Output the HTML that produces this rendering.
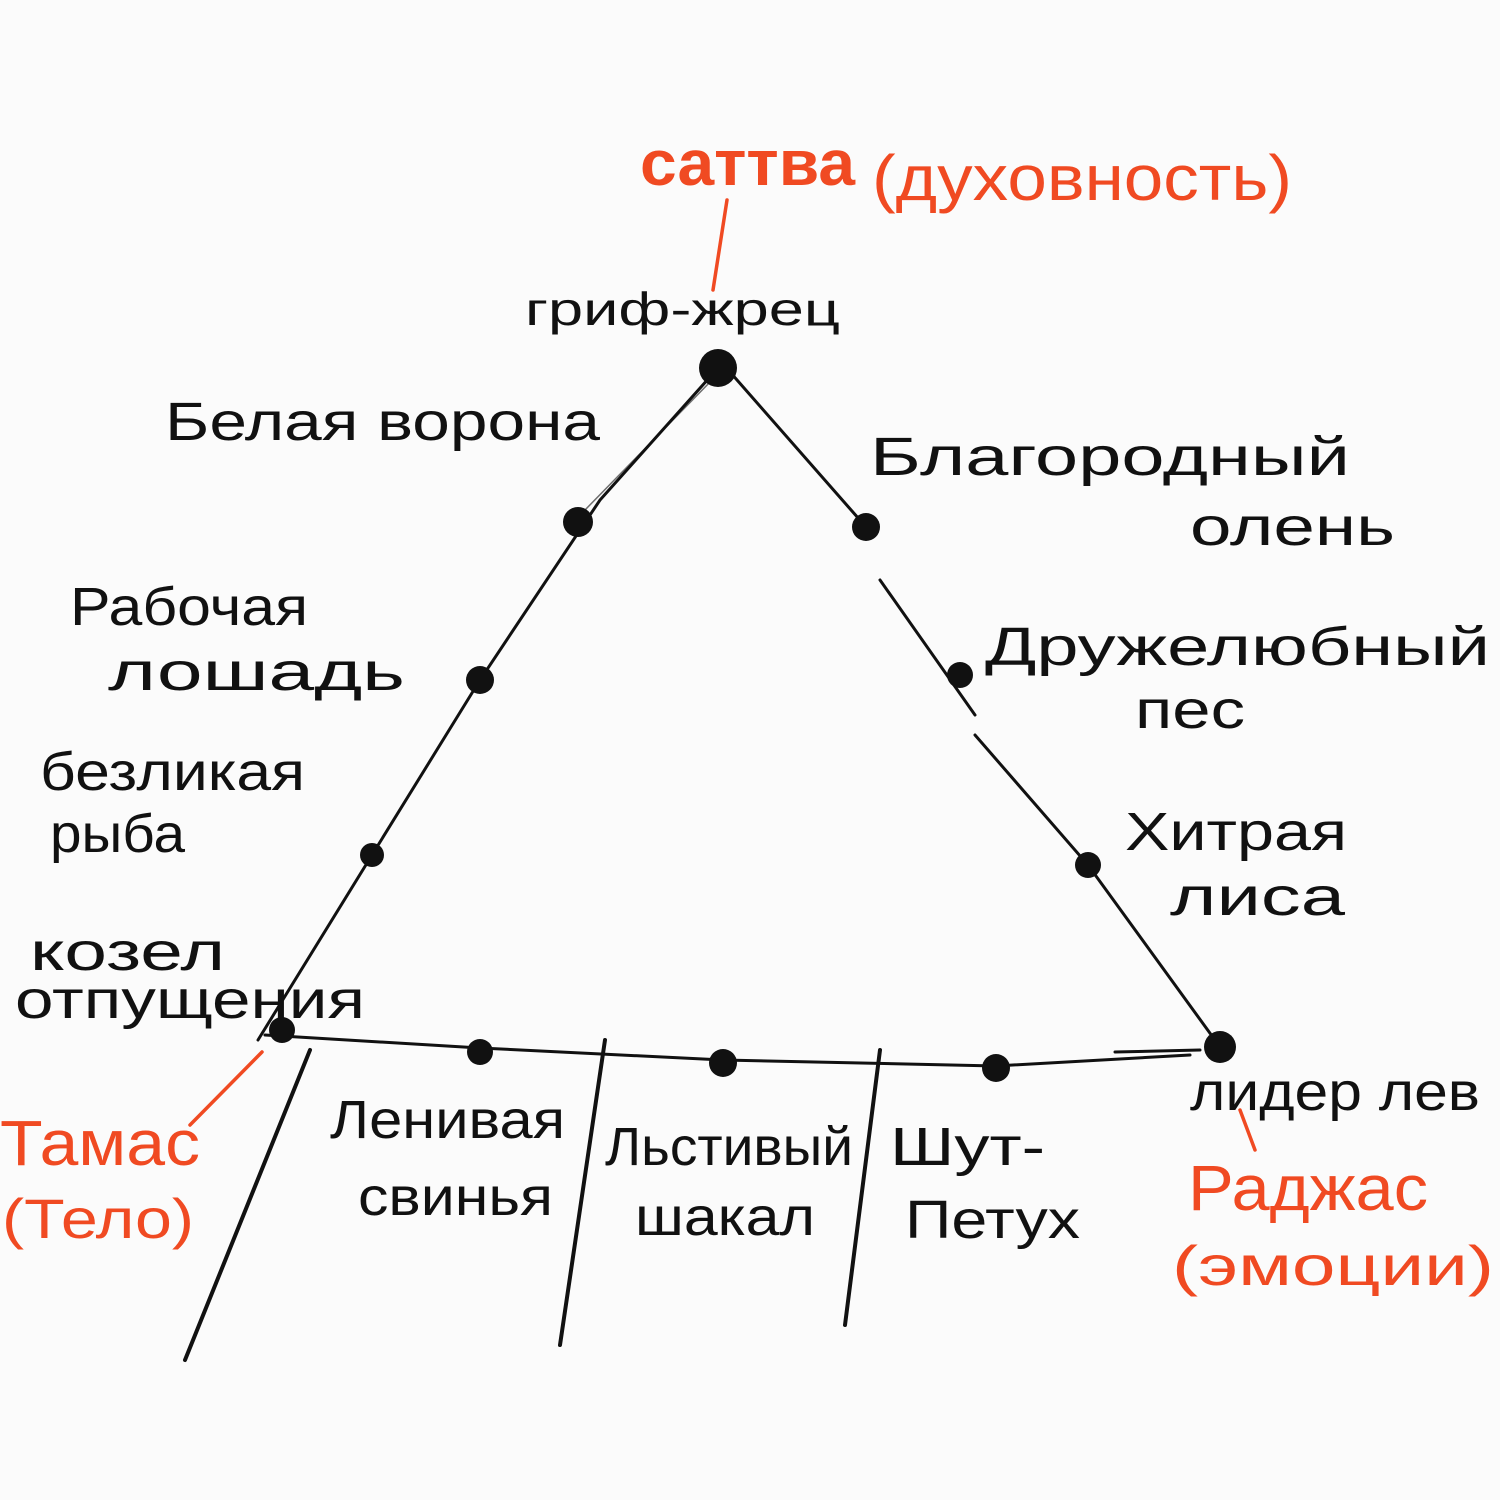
<!DOCTYPE html>
<html><head><meta charset="utf-8"><style>
html,body{margin:0;padding:0;background:#fbfbfb;}
svg{display:block}
text{font-family:"Liberation Sans","DejaVu Sans",sans-serif;}
</style></head><body>
<svg width="1500" height="1500" viewBox="0 0 1500 1500" xmlns="http://www.w3.org/2000/svg">
<rect width="1500" height="1500" fill="#fbfbfb"/>
<g stroke="#111" fill="none" stroke-linecap="round">
<path d="M718 368 L600 500 L480 680 L372 855 L258 1040" stroke-width="3"/>
<path d="M712 380 L585 510" stroke-width="1.5" opacity=".6"/>
<path d="M730 372 L866 527" stroke-width="3"/>
<path d="M880 580 L975 715" stroke-width="3"/>
<path d="M975 735 L1088 865 L1220 1047" stroke-width="3"/>
<path d="M265 1035 L480 1048 L723 1060 L996 1066 L1190 1055" stroke-width="3"/>
<path d="M1115 1052 L1200 1050" stroke-width="3"/>
<path d="M310 1050 L185 1360" stroke-width="4"/>
<path d="M605 1040 L560 1345" stroke-width="4"/>
<path d="M880 1050 L845 1325" stroke-width="4"/>
</g>
<g stroke="#f04a22" fill="none" stroke-width="3.5" stroke-linecap="round">
<path d="M727 200 L713 290"/>
<path d="M262 1052 L190 1125"/>
<path d="M1240 1110 L1255 1150"/>
</g>
<g fill="#111">
<circle cx="718" cy="368" r="19"/>
<circle cx="578" cy="522" r="15"/>
<circle cx="480" cy="680" r="14"/>
<circle cx="372" cy="855" r="12"/>
<circle cx="282" cy="1030" r="13"/>
<circle cx="866" cy="527" r="14"/>
<circle cx="960" cy="675" r="13"/>
<circle cx="1088" cy="865" r="13"/>
<circle cx="1220" cy="1047" r="16"/>
<circle cx="480" cy="1052" r="13"/>
<circle cx="723" cy="1063" r="14"/>
<circle cx="996" cy="1068" r="14"/>
</g>
<g fill="#f04a22" font-size="64">
<text x="640" y="185" textLength="215" lengthAdjust="spacingAndGlyphs" font-weight="bold">саттва</text>
<text x="872" y="200" textLength="420" lengthAdjust="spacingAndGlyphs">(духовность)</text>
<text x="0" y="1165" textLength="200" lengthAdjust="spacingAndGlyphs">Тамас</text>
<text x="2" y="1238" textLength="192" lengthAdjust="spacingAndGlyphs" font-size="56">(Тело)</text>
<text x="1188" y="1210" textLength="240" lengthAdjust="spacingAndGlyphs">Раджас</text>
<text x="1172" y="1285" textLength="322" lengthAdjust="spacingAndGlyphs" font-size="56">(эмоции)</text>
</g>
<g fill="#111" font-size="54">
<text x="525" y="325" textLength="315" lengthAdjust="spacingAndGlyphs" font-size="46">гриф-жрец</text>
<text x="165" y="440" textLength="435" lengthAdjust="spacingAndGlyphs">Белая ворона</text>
<text x="870" y="475" textLength="480" lengthAdjust="spacingAndGlyphs">Благородный</text>
<text x="1190" y="545" textLength="205" lengthAdjust="spacingAndGlyphs">олень</text>
<text x="70" y="625" textLength="238" lengthAdjust="spacingAndGlyphs">Рабочая</text>
<text x="108" y="690" textLength="297" lengthAdjust="spacingAndGlyphs">лошадь</text>
<text x="985" y="665" textLength="505" lengthAdjust="spacingAndGlyphs">Дружелюбный</text>
<text x="1135" y="728" textLength="110" lengthAdjust="spacingAndGlyphs">пес</text>
<text x="40" y="790" textLength="265" lengthAdjust="spacingAndGlyphs">безликая</text>
<text x="50" y="852" textLength="135" lengthAdjust="spacingAndGlyphs">рыба</text>
<text x="1125" y="850" textLength="222" lengthAdjust="spacingAndGlyphs">Хитрая</text>
<text x="1170" y="915" textLength="175" lengthAdjust="spacingAndGlyphs">лиса</text>
<text x="30" y="970" textLength="195" lengthAdjust="spacingAndGlyphs">козел</text>
<text x="15" y="1018" textLength="350" lengthAdjust="spacingAndGlyphs">отпущения</text>
<text x="1190" y="1110" textLength="290" lengthAdjust="spacingAndGlyphs">лидер лев</text>
<text x="330" y="1138" textLength="235" lengthAdjust="spacingAndGlyphs">Ленивая</text>
<text x="358" y="1215" textLength="195" lengthAdjust="spacingAndGlyphs">свинья</text>
<text x="605" y="1165" textLength="248" lengthAdjust="spacingAndGlyphs">Льстивый</text>
<text x="635" y="1235" textLength="180" lengthAdjust="spacingAndGlyphs">шакал</text>
<text x="890" y="1165" textLength="155" lengthAdjust="spacingAndGlyphs">Шут-</text>
<text x="905" y="1238" textLength="175" lengthAdjust="spacingAndGlyphs">Петух</text>
</g>
</svg>
</body></html>
